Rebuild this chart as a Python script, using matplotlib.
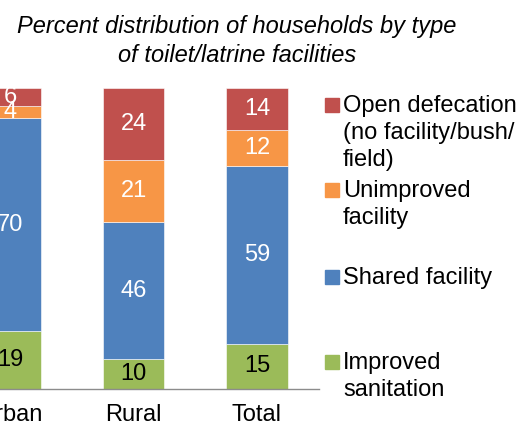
import matplotlib
matplotlib.use("Agg")
import matplotlib.pyplot as plt
from matplotlib.patches import Rectangle
import numpy as np

plt.rcParams['font.family'] = ['Liberation Sans', 'DejaVu Sans']

categories = ["Urban", "Rural", "Total"]
series_names = ["Improved sanitation", "Shared facility", "Unimproved facility",
                "Open defecation (no facility/bush/ field)"]
improved = [19, 10, 15]
shared = [70, 46, 59]
unimproved = [4, 21, 12]
open_def = [6, 24, 14]

colors = ["#9BBB59", "#4F81BD", "#F79646", "#C0504D"]
label_colors = ["black", "white", "white", "white"]
legend_texts = ["Improved\nsanitation", "Shared facility", "Unimproved\nfacility",
                "Open defecation\n(no facility/bush/\nfield)"]

data = np.array([improved, shared, unimproved, open_def], dtype=float)
totals = data.sum(axis=0)
heights = data / totals * 100  # 100% stacked

fig = plt.figure(figsize=(5.2, 4.25), dpi=100)
ax = fig.add_axes([-51.75 / 520, 36 / 425, 370.5 / 520, 301 / 425])
x = np.arange(len(categories))
bottom = np.zeros(len(categories))
FS = 17
for i in range(len(series_names)):
    ax.bar(x, heights[i], 0.5, bottom=bottom, color=colors[i], edgecolor="white",
           linewidth=0.4)
    for j in range(len(categories)):
        ax.text(x[j], bottom[j] + heights[i][j] / 2, f"{int(data[i][j])}",
                ha="center", va="center", fontsize=FS, color=label_colors[i])
    bottom += heights[i]

ax.set_xlim(-0.5, 2.5)
ax.set_ylim(0, 100)
ax.set_yticks([])
ax.set_xticks(x)
ax.set_xticklabels(categories, fontsize=FS)
ax.tick_params(axis="x", length=0, pad=11)
for s in ["top", "right", "left"]:
    ax.spines[s].set_visible(False)
ax.spines["bottom"].set_color("#8c8c8c")
ax.spines["bottom"].set_linewidth(1.0)

fig.text(237 / 520, 1 - 15 / 425,
         "Percent distribution of households by type\nof toilet/latrine facilities",
         ha="center", va="top", fontsize=FS, style="italic", linespacing=1.35)

# legend (manual, Excel-like spacing)
sq_y = [362, 277, 190, 105]  # pixel centers from top
for i in range(len(series_names)):
    yc = 1 - sq_y[i] / 425
    fig.patches.append(Rectangle((325 / 520, yc - 7 / 425), 14 / 520, 14 / 425,
                                 transform=fig.transFigure, color=colors[i]))
    fig.text(343 / 520, yc + 10 / 425, legend_texts[i], ha="left", va="top",
             fontsize=FS, linespacing=1.3)

fig.savefig("out.png", dpi=100)
